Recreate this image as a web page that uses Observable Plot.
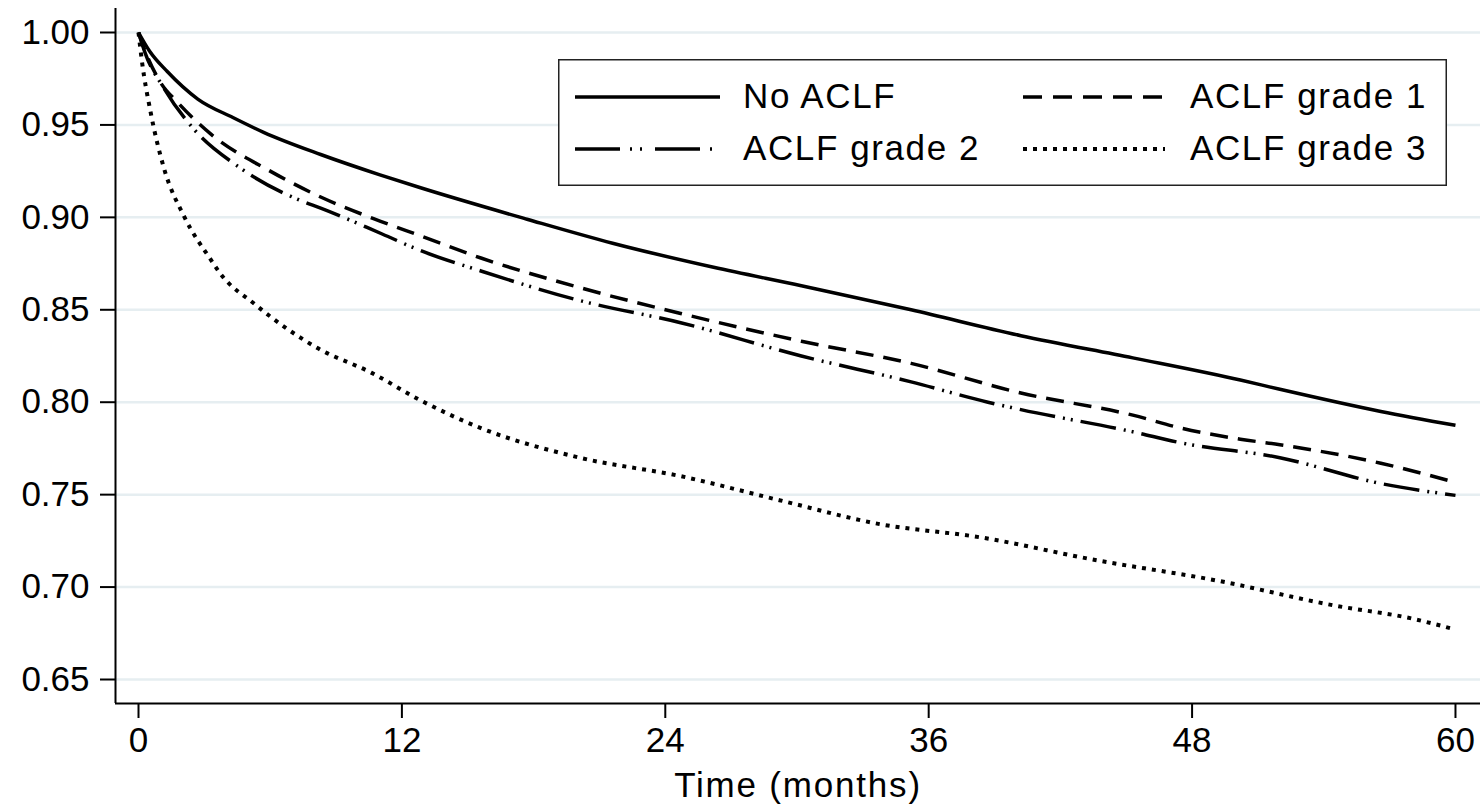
<!DOCTYPE html>
<html><head><meta charset="utf-8">
<script src="https://cdn.jsdelivr.net/npm/d3@7"></script>
<script src="https://cdn.jsdelivr.net/npm/@observablehq/plot@0.6"></script>
<style>
body{margin:0;background:#fff;}
#wrap{position:relative;width:1480px;height:807px;font-family:"Liberation Sans",Arial,Helvetica,sans-serif;}
#legend{position:absolute;left:558px;top:59px;}
</style></head><body><div id="wrap"></div>
<script>
// ---- data ----
const seriesNames = ["No ACLF", "ACLF grade 1", "ACLF grade 2", "ACLF grade 3"];
const xTicks = [0, 12, 24, 36, 48, 60];
const yTicks = [0.65, 0.70, 0.75, 0.80, 0.85, 0.90, 0.95, 1.00];
const xLabel = "Time (months)";

const noACLF = [[0,1.000],[0.5,0.990],[1.3,0.979],[2.7,0.964],[4.3,0.954],[5.7,0.946],[8.3,0.934],[11,0.923],[12.85,0.916],[17.7,0.899],[21.6,0.886],[26.2,0.873],[30.2,0.863],[35.2,0.850],[40.2,0.836],[45.3,0.824],[50.2,0.812],[52,0.807],[56.6,0.795],[60,0.7875]];
const aclf1 = [[0,1.000],[0.3,0.990],[1.0,0.973],[1.8,0.962],[3.3,0.945],[6.0,0.925],[8.3,0.911],[11,0.898],[12.85,0.890],[15.6,0.878],[20.1,0.862],[24.7,0.848],[30.2,0.833],[35.2,0.821],[40.2,0.805],[45.3,0.793],[47.5,0.786],[50.2,0.780],[52,0.777],[56.6,0.767],[60,0.7566]];
const aclf2 = [[0,1.000],[0.3,0.989],[1.15,0.970],[2.5,0.948],[4.6,0.927],[7.4,0.909],[8.3,0.905],[11.1,0.891],[12.85,0.882],[15.6,0.871],[20.1,0.855],[24.7,0.843],[30.2,0.825],[35.2,0.811],[38.7,0.800],[40.2,0.796],[45.3,0.784],[47.5,0.778],[52,0.770],[56.6,0.756],[60,0.7496]];
const aclf3 = [[0,1.000],[0.15,0.985],[0.55,0.957],[1.15,0.927],[2.1,0.900],[3.3,0.877],[3.7,0.870],[5.3,0.853],[8.2,0.829],[10.6,0.816],[12.85,0.801],[15.6,0.786],[20.1,0.770],[24.7,0.760],[29.2,0.747],[33.8,0.734],[38.3,0.727],[43.7,0.7144],[49.1,0.7036],[54.5,0.690],[58,0.683],[60,0.677]];
const seriesValues = [noACLF, aclf1, aclf2, aclf3];

// ---- scales / styles ----
const xDomain = [-1.048, 61.14];
const yDomain = [0.63702, 1.01298];
const plotDash = [null, "18,10", "36,8,2,6,2,8", "4,6"];
const legendDash = [null, "19,11", "45,10,2,8,2,13", "4,6"];
const widths = [3.5, 3.5, 3.5, 4];
const FONT = '"Liberation Sans", Arial, Helvetica, sans-serif';

const rows = seriesNames.map((name, i) => seriesValues[i].map(([t, s]) => ({series: name, t, s})));

const lineMarks = rows.map((r, i) => Plot.line(r, {
  x: "t", y: "s", stroke: "black", strokeWidth: widths[i],
  strokeDasharray: plotDash[i] || undefined, strokeLinecap: "butt", curve: "monotone-x"
}));

const chart = Plot.plot({
  width: 1480, height: 807,
  marginLeft: 115, marginRight: 0, marginTop: 8, marginBottom: 104,
  style: {fontFamily: FONT, fontSize: "35px", color: "black", background: "white"},
  x: {domain: xDomain},
  y: {domain: yDomain},
  marks: [
    Plot.gridY(yTicks, {stroke: "#e6eef1", strokeOpacity: 1, strokeWidth: 2.5}),
    ...lineMarks,
    Plot.ruleX([xDomain[0]], {stroke: "black", strokeWidth: 2}),
    Plot.ruleY([yDomain[0]], {stroke: "black", strokeWidth: 2}),
    Plot.axisY(yTicks, {tickSize: 15, tickPadding: 11, tickFormat: d3.format(".2f"), fontSize: 35, strokeWidth: 2, label: null}),
    Plot.axisX(xTicks, {tickSize: 15, tickPadding: 9, fontSize: 35, strokeWidth: 2, label: null}),
    Plot.text([xLabel], {frameAnchor: "bottom", dy: 93, lineAnchor: "bottom", fontSize: 35, fill: "black", text: d => d})
  ]
});
const wrap = document.getElementById("wrap");
wrap.appendChild(chart);
d3.select(chart).selectAll("text").filter(function(){ return this.textContent === xLabel; }).attr("letter-spacing", "1.8px");

// ---- legend (inside plot area, drawn as overlay) ----
const lw = 889, lh = 127;
const leg = d3.select(wrap).append("svg").attr("id", "legend").attr("width", lw).attr("height", lh);
leg.append("rect").attr("x", 0.75).attr("y", 0.75).attr("width", lw - 1.5).attr("height", lh - 1.5)
  .attr("fill", "white").attr("stroke", "#222").attr("stroke-width", 1.5);
const colX = [[17, 162, 185], [465, 607, 632]];
const rowY = [38, 90];
seriesNames.forEach((name, k) => {
  const c = colX[k % 2], ry = rowY[Math.floor(k / 2)];
  const ln = leg.append("line").attr("x1", c[0]).attr("x2", c[1]).attr("y1", ry).attr("y2", ry)
    .attr("stroke", "black").attr("stroke-width", widths[k]);
  if (legendDash[k]) ln.attr("stroke-dasharray", legendDash[k]);
  leg.append("text").attr("x", c[2]).attr("y", ry + 11).attr("font-size", 35).attr("letter-spacing", "1.6px")
    .attr("font-family", FONT).attr("fill", "black").text(name);
});
</script></body></html>
